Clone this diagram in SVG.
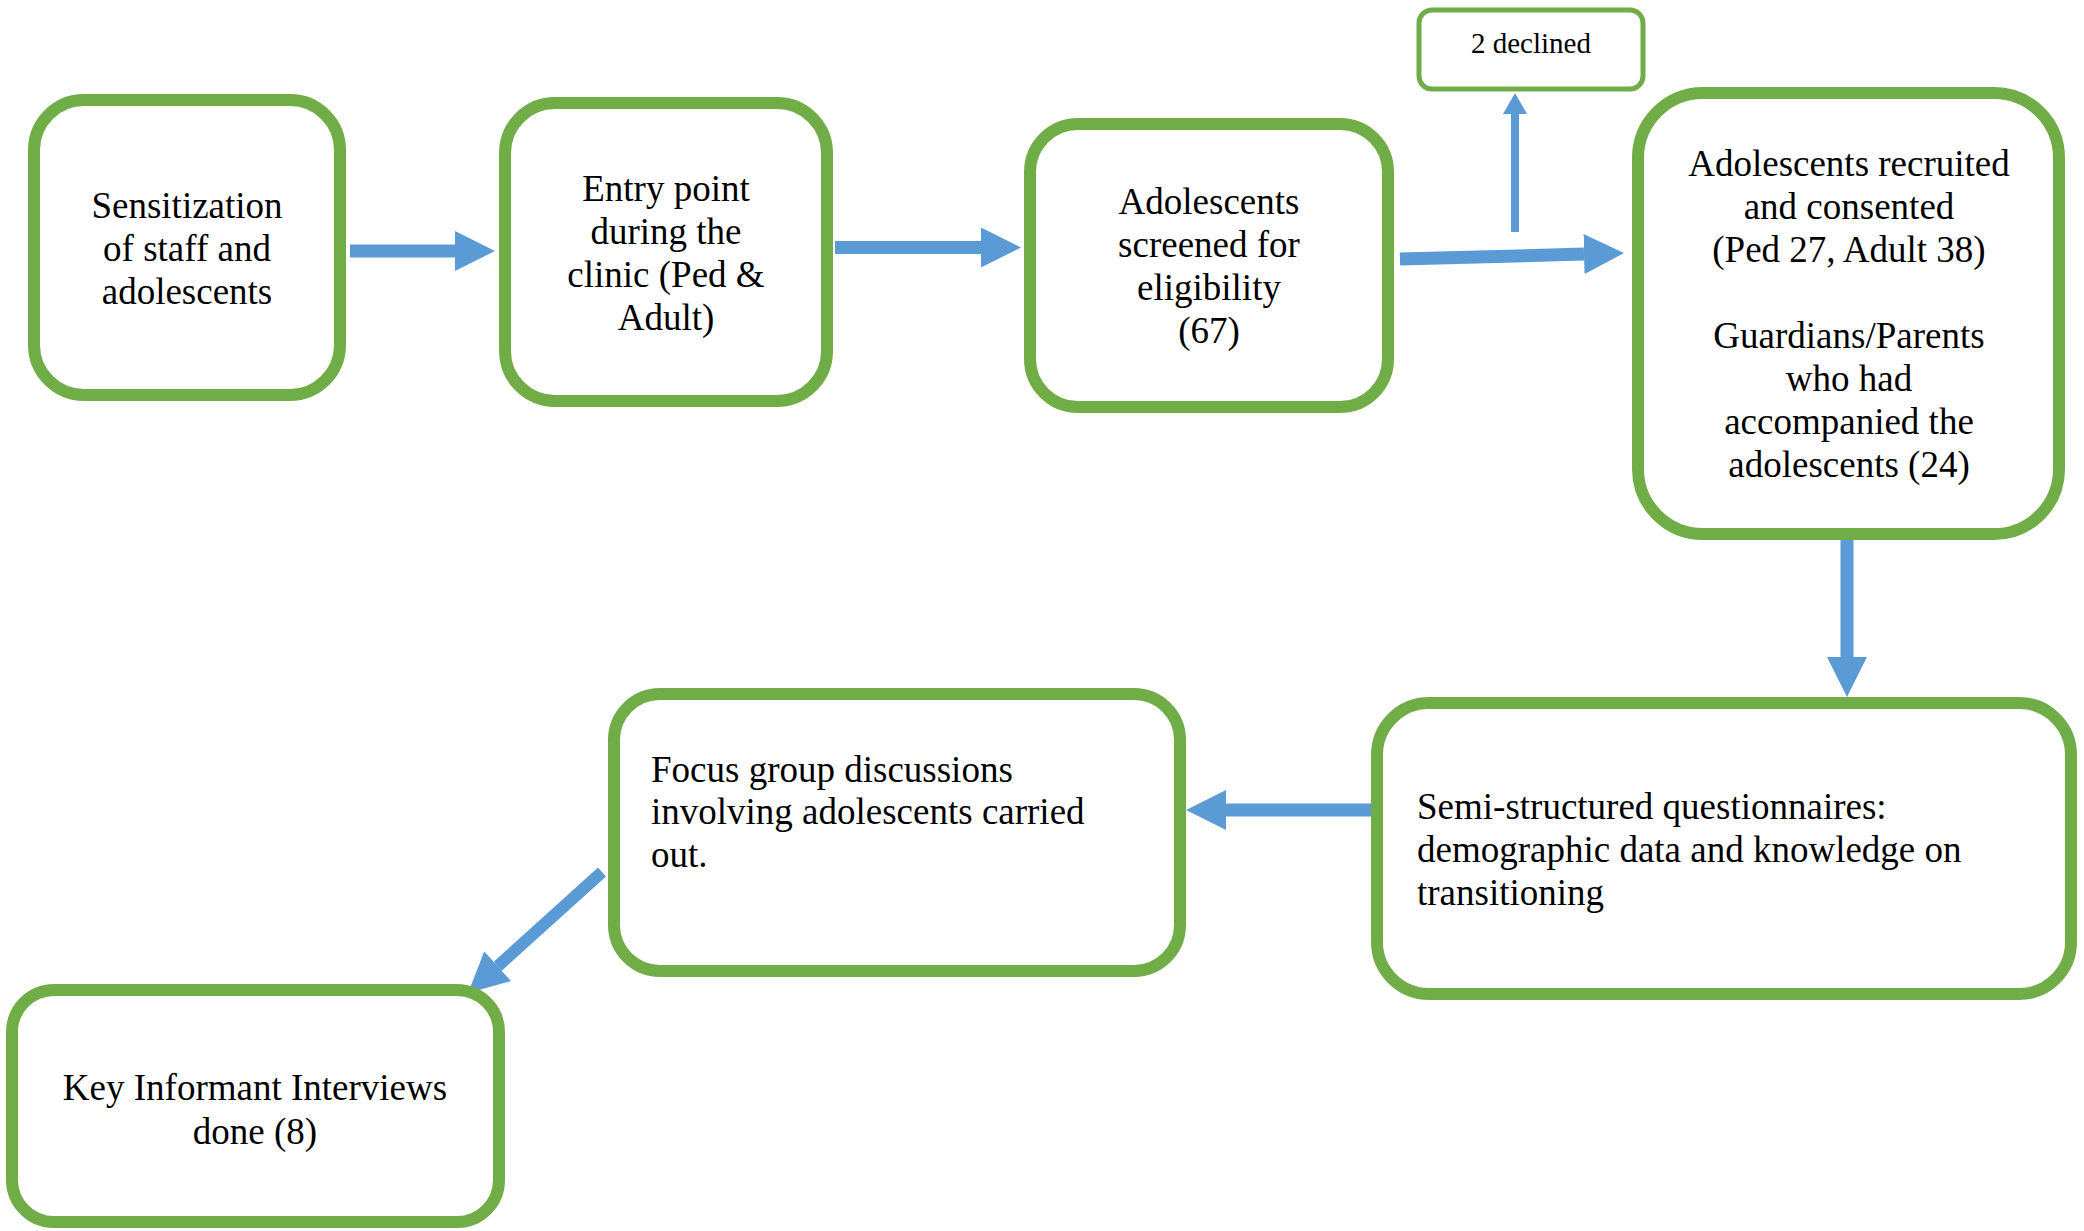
<svg xmlns="http://www.w3.org/2000/svg" width="2084" height="1231" viewBox="0 0 2084 1231">
<style>
.box{fill:#FFFFFF;stroke:#70AD47;stroke-width:12}
.sbox{fill:#FFFFFF;stroke:#70AD47;stroke-width:5}
.t{font-family:"Liberation Serif","Times New Roman",serif;font-size:37px;fill:#000000}
.c{text-anchor:middle}
.s{font-size:29px}
.a{stroke:#5B9BD5;stroke-width:13;fill:none}
</style>
<defs>
<marker id="head" markerUnits="userSpaceOnUse" markerWidth="41" markerHeight="40" refX="0" refY="20" orient="auto">
<path d="M0,0 L40,20 L0,40 Z" fill="#5B9BD5"/>
</marker>
<marker id="headS" markerUnits="userSpaceOnUse" markerWidth="22" markerHeight="24" refX="0" refY="12" orient="auto">
<path d="M0,0 L21,12 L0,24 Z" fill="#5B9BD5"/>
</marker>
</defs>
<rect width="2084" height="1231" fill="#FFFFFF"/>
<g id="connectors">
<line class="a" x1="350" y1="251" x2="455" y2="251" marker-end="url(#head)"/>
<line class="a" x1="835" y1="247.5" x2="981" y2="247.5" marker-end="url(#head)"/>
<line class="a" x1="1400" y1="259" x2="1584" y2="254.1" marker-end="url(#head)"/>
<line class="a" style="stroke-width:8" x1="1515" y1="232" x2="1515" y2="114" marker-end="url(#headS)"/>
<line class="a" x1="1847" y1="537" x2="1847" y2="657" marker-end="url(#head)"/>
<line class="a" x1="1373" y1="810" x2="1226" y2="810" marker-end="url(#head)"/>
<line class="a" style="stroke-width:12" x1="602" y1="872" x2="497.7" y2="966.2" marker-end="url(#head)"/>
</g>
<g id="sensitization">
<rect class="box" x="34" y="100" width="306" height="295" rx="50" ry="50"/>
<text class="t c" x="187" y="218">Sensitization</text>
<text class="t c" x="187" y="261">of staff and</text>
<text class="t c" x="187" y="304">adolescents</text>
</g>
<g id="entry-point">
<rect class="box" x="505" y="103" width="322" height="298" rx="50" ry="50"/>
<text class="t c" x="666" y="201">Entry point</text>
<text class="t c" x="666" y="244">during the</text>
<text class="t c" x="666" y="287">clinic (Ped &amp;</text>
<text class="t c" x="666" y="330">Adult)</text>
</g>
<g id="screened">
<rect class="box" x="1030" y="124" width="358" height="283" rx="48" ry="48"/>
<text class="t c" x="1209" y="214">Adolescents</text>
<text class="t c" x="1209" y="257">screened for</text>
<text class="t c" x="1209" y="300">eligibility</text>
<text class="t c" x="1209" y="343">(67)</text>
</g>
<g id="declined">
<rect class="sbox" x="1419" y="10" width="224" height="79" rx="13" ry="13"/>
<text class="t c s" x="1531" y="53">2 declined</text>
</g>
<g id="recruited">
<rect class="box" x="1638" y="93" width="421" height="441" rx="65" ry="65"/>
<text class="t c" x="1849" y="176">Adolescents recruited</text>
<text class="t c" x="1849" y="219">and consented</text>
<text class="t c" x="1849" y="262">(Ped 27, Adult 38)</text>
<text class="t c" x="1849" y="348">Guardians/Parents</text>
<text class="t c" x="1849" y="391">who had</text>
<text class="t c" x="1849" y="434">accompanied the</text>
<text class="t c" x="1849" y="477">adolescents (24)</text>
</g>
<g id="questionnaires">
<rect class="box" x="1377" y="703" width="694" height="291" rx="52" ry="52"/>
<text class="t" x="1417" y="819">Semi-structured questionnaires:</text>
<text class="t" x="1417" y="862">demographic data and knowledge on</text>
<text class="t" x="1417" y="905">transitioning</text>
</g>
<g id="focus-group">
<rect class="box" x="614" y="694" width="566" height="277" rx="46" ry="46"/>
<text class="t" x="651" y="782">Focus group discussions</text>
<text class="t" x="651" y="824">involving adolescents carried</text>
<text class="t" x="651" y="867">out.</text>
</g>
<g id="key-informant">
<rect class="box" x="12" y="990" width="487" height="232" rx="42" ry="42"/>
<text class="t c" x="255" y="1100">Key Informant Interviews</text>
<text class="t c" x="255" y="1144">done (8)</text>
</g>
</svg>
